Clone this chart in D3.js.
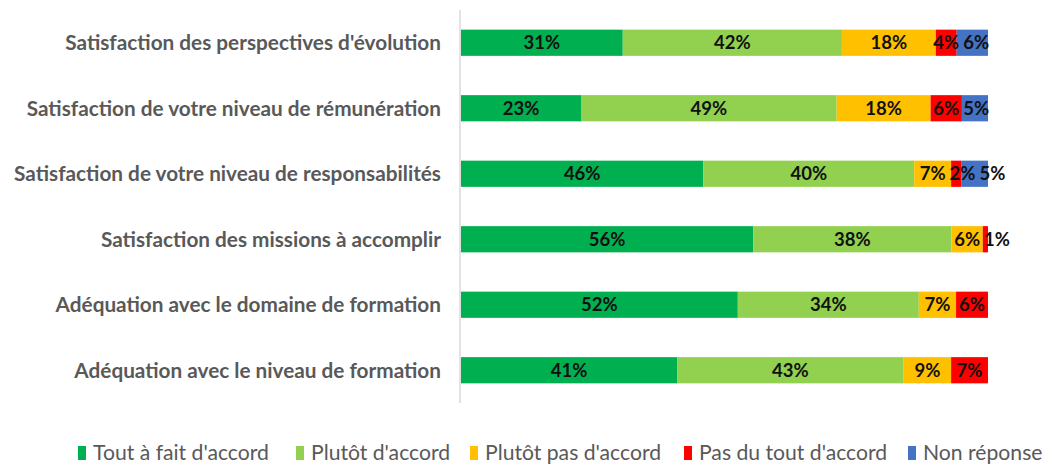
<!DOCTYPE html>
<html>
<head>
<meta charset="utf-8">
<script src="https://cdn.jsdelivr.net/npm/d3@7"></script>
<style>
  body { margin: 0; background: #fff; }
  svg text { font-family: Lato, "Open Sans", sans-serif; }
</style>
</head>
<body>
<svg id="chart" width="1049" height="464"></svg>
<script>
// categories, top to bottom
const categories = [
  "Satisfaction des perspectives d'évolution",
  "Satisfaction de votre niveau de rémunération",
  "Satisfaction de votre niveau de responsabilités",
  "Satisfaction des missions à accomplir",
  "Adéquation avec le domaine de formation",
  "Adéquation avec le niveau de formation"
];
const seriesNames = ["Tout à fait d'accord", "Plutôt d'accord", "Plutôt pas d'accord", "Pas du tout d'accord", "Non réponse"];
const toutAFait   = [31, 23, 46, 56, 52, 41];
const plutotOui   = [42, 49, 40, 38, 34, 43];
const plutotNon   = [18, 18, 7, 6, 7, 9];
const pasDuTout   = [4, 6, 2, 1, 6, 7];
const nonReponse  = [6, 5, 5, 0, 0, 0];
const colors = ["#00B050", "#92D050", "#FFC000", "#FF0000", "#4472C4"];

const allSeries = [toutAFait, plutotOui, plutotNon, pasDuTout, nonReponse];
const rows = categories.map((c, i) => {
  const r = { cat: c };
  seriesNames.forEach((s, j) => r[s] = allSeries[j][i]);
  return r;
});

const svg = d3.select("#chart");
const margin = { left: 461, right: 61, top: 10, bottom: 61 };
const W = 1049, H = 464;

const x = d3.scaleLinear().domain([0, 1]).range([margin.left, W - margin.right]);
const y = d3.scaleBand().domain(categories).range([margin.top, H - margin.bottom])
  .paddingInner(0.6).paddingOuter(0.3);
const color = d3.scaleOrdinal().domain(seriesNames).range(colors);

const stacked = d3.stack().keys(seriesNames).offset(d3.stackOffsetExpand)(rows);

// fit a text selection so that its widest item is targetW wide
function fitWidth(sel, targetW) {
  let maxW = 0;
  sel.each(function () { maxW = Math.max(maxW, this.getComputedTextLength()); });
  const fs = parseFloat(sel.attr("font-size"));
  sel.attr("font-size", fs * targetW / maxW);
}

// vertical axis line
svg.append("line")
  .attr("x1", margin.left - 1).attr("x2", margin.left - 1)
  .attr("y1", margin.top).attr("y2", H - margin.bottom)
  .attr("stroke", "#d9d9d9").attr("stroke-width", 1.5);

// category labels
const catLabels = svg.selectAll(".cat")
  .data(categories)
  .enter().append("text")
  .attr("class", "cat")
  .attr("x", margin.left - 20)
  .attr("y", d => y(d) + y.bandwidth() / 2)
  .attr("dy", "0.35em")
  .attr("text-anchor", "end")
  .attr("fill", "#595959")
  .attr("font-weight", "bold")
  .attr("font-size", 17)
  .text(d => d);
fitWidth(catLabels, 427);

const layers = svg.selectAll(".layer")
  .data(stacked)
  .enter().append("g")
  .attr("class", "layer")
  .attr("fill", d => color(d.key));

layers.selectAll("rect")
  .data(d => d.map(p => ({ p, key: d.key })))
  .enter().append("rect")
  .attr("x", d => x(d.p[0]))
  .attr("y", d => y(d.p.data.cat))
  .attr("width", d => x(d.p[1]) - x(d.p[0]))
  .attr("height", y.bandwidth());

// value labels, centred on their segment, pushed right when they would collide
const valLabels = svg.append("g").selectAll("text")
  .data(stacked.flatMap(s => s.map(p => ({ p, key: s.key }))).filter(d => d.p.data[d.key] > 0))
  .enter().append("text")
  .attr("y", d => y(d.p.data.cat) + y.bandwidth() / 2)
  .attr("dy", "0.36em")
  .attr("text-anchor", "start")
  .attr("fill", "#111")
  .attr("font-weight", "bold")
  .attr("font-size", 18.5)
  .text(d => d.p.data[d.key] + "%");

const lastRight = {};
valLabels.each(function (d) {
  const w = this.getComputedTextLength();
  const c = (x(d.p[0]) + x(d.p[1])) / 2;
  const prev = lastRight[d.p.data.cat] ?? -Infinity;
  const left = Math.max(c - w / 2, prev + 4);
  lastRight[d.p.data.cat] = left + w;
  d3.select(this).attr("x", left);
});

// legend
const legendX = [78, 296, 470, 684, 908];
const legend = svg.selectAll(".leg")
  .data(seriesNames)
  .enter().append("g")
  .attr("class", "leg")
  .attr("transform", (d, i) => `translate(${legendX[i]},453)`);
legend.append("rect")
  .attr("x", 0).attr("y", -7).attr("width", 8).attr("height", 14)
  .attr("fill", d => color(d));
const legText = legend.append("text")
  .attr("x", 15).attr("dy", "0.35em")
  .attr("fill", "#595959")
  .attr("font-size", 18)
  .text(d => d);
fitWidth(legText.filter((d, i) => i === 0), 176);
legText.attr("font-size", legText.filter((d, i) => i === 0).attr("font-size"));
</script>
</body>
</html>
